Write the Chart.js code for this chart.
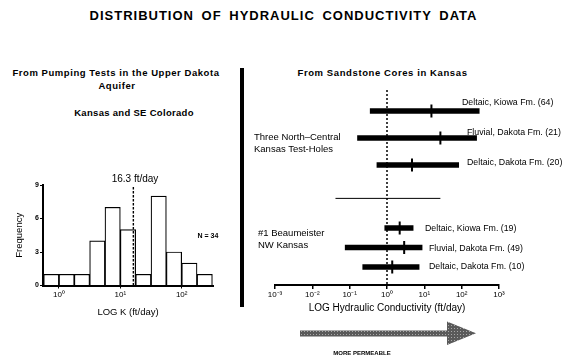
<!DOCTYPE html>
<html>
<head>
<meta charset="utf-8">
<script src="https://cdn.jsdelivr.net/npm/chart.js@4.4.1/dist/chart.umd.min.js"></script>
<style>
html,body{margin:0;padding:0;background:#fff;}
#stage{position:relative;width:565px;height:364px;overflow:hidden;font-family:'Liberation Sans',Arial,Helvetica,sans-serif;color:#000;background:#fff;}
.t{position:absolute;white-space:nowrap;line-height:1;}
.c{transform:translate(-50%,-50%);}
.l{transform:translateY(-50%);}
canvas{position:absolute;}
</style>
</head>
<body>
<div id="stage">
  <canvas id="hist" width="235" height="180" style="left:0;top:150px;width:235px;height:180px"></canvas>
  <canvas id="cores" width="320" height="240" style="left:245px;top:80px;width:320px;height:240px"></canvas>

  <div class="t c" style="left:283.5px;top:15px;font-weight:bold;font-size:13px;letter-spacing:1px;word-spacing:3px">DISTRIBUTION OF HYDRAULIC CONDUCTIVITY DATA</div>

  <div class="t c" style="left:116px;top:73px;font-weight:bold;font-size:9.5px;letter-spacing:0.55px">From Pumping Tests in the Upper Dakota</div>
  <div class="t c" style="left:117px;top:86px;font-weight:bold;font-size:9.5px;letter-spacing:0.55px">Aquifer</div>
  <div class="t c" style="left:134px;top:113px;font-weight:bold;font-size:9.5px;letter-spacing:0.3px">Kansas and SE Colorado</div>
  <div class="t c" id="markerLabel" style="left:135px;top:179px;font-size:10px"></div>
  <div class="t c" id="nLabel" style="left:208px;top:235px;font-size:7px;font-weight:bold"></div>

  <div id="divider" style="position:absolute;left:240px;top:68px;width:4px;height:239px;background:#000"></div>

  <div class="t c" style="left:382.5px;top:73px;font-weight:bold;font-size:9.5px;letter-spacing:0.6px">From Sandstone Cores in Kansas</div>
  <div class="t l" style="left:254px;top:137px;font-size:9.5px">Three North–Central</div>
  <div class="t l" style="left:254px;top:149px;font-size:9.5px">Kansas Test-Holes</div>
  <div class="t l" style="left:258px;top:233px;font-size:9.5px">#1 Beaumeister</div>
  <div class="t l" style="left:258px;top:245px;font-size:9.5px">NW Kansas</div>

  <div class="t l" style="left:462px;top:102px;font-size:8.8px">Deltaic, Kiowa Fm. (64)</div>
  <div class="t l" style="left:467px;top:132px;font-size:8.8px">Fluvial, Dakota Fm. (21)</div>
  <div class="t l" style="left:467px;top:162px;font-size:8.8px">Deltaic, Dakota Fm. (20)</div>
  <div class="t l" style="left:425px;top:228px;font-size:8.8px">Deltaic, Kiowa Fm. (19)</div>
  <div class="t l" style="left:429px;top:248px;font-size:8.8px">Fluvial, Dakota Fm. (49)</div>
  <div class="t l" style="left:429px;top:266px;font-size:8.8px">Deltaic, Dakota Fm. (10)</div>

  <svg style="position:absolute;left:0;top:0" width="565" height="364">
    <defs>
      <pattern id="stipple" width="3" height="3" patternUnits="userSpaceOnUse">
        <rect width="3" height="3" fill="#5a5a5a"/>
        <rect x="1" y="1" width="1" height="1" fill="#a8a8a8"/>
      </pattern>
    </defs>
    <polygon points="300,330.5 447,330.5 447,321.5 476,333.3 447,345 447,336.5 300,336.5" fill="url(#stipple)"/>
  </svg>
  <div class="t c" style="left:362px;top:353px;font-size:6px;font-weight:bold">MORE PERMEABLE</div>
</div>

<script>
// ---------- Histogram: pumping tests, Upper Dakota aquifer ----------
const histBinEdgesLogK = [-0.25, 0, 0.25, 0.5, 0.75, 1, 1.25, 1.5, 1.75, 2, 2.25, 2.5];
const histFrequency = [1, 1, 1, 4, 7, 5, 1, 8, 3, 2, 1];
const histMarkerK = 16.3;          // ft/day
const histN = 34;
const histTickExponents = [0, 1, 2];
const histFreqTicks = [0, 3, 6, 9];

// ---------- Sandstone cores (values are log10 K, ft/day) ----------
const topRows = ['Deltaic, Kiowa Fm. (64)', 'Fluvial, Dakota Fm. (21)', 'Deltaic, Dakota Fm. (20)'];
const topMinLogK = [-0.45, -0.79, -0.27];
const topMaxLogK = [2.47, 2.40, 1.92];
const topMidLogK = [1.19, 1.43, 0.67];

const bottomRows = ['Deltaic, Kiowa Fm. (19)', 'Fluvial, Dakota Fm. (49)', 'Deltaic, Dakota Fm. (10)'];
const bottomMinLogK = [-0.06, -1.12, -0.65];
const bottomMaxLogK = [0.70, 0.94, 0.86];
const bottomMidLogK = [0.34, 0.46, 0.14];

const dividerLogK = [-1.38, 1.43];
const coreRefLogK = 0;
const coreTickExponents = [-3, -2, -1, 0, 1, 2, 3];

// ---------- helpers ----------
const SUP = {'0':'⁰','1':'¹','2':'²','3':'³','4':'⁴','5':'⁵','6':'⁶','7':'⁷','8':'⁸','9':'⁹','-':'⁻'};
const pow10Label = v => '10' + String(v).split('').map(ch => SUP[ch] || ch).join('');

document.getElementById('markerLabel').textContent = histMarkerK + ' ft/day';
document.getElementById('nLabel').textContent = 'N = ' + histN;

Chart.defaults.font.family = "'Liberation Sans', Arial, Helvetica, sans-serif";
Chart.defaults.color = '#000';

const refLine = {
  id: 'refLine',
  afterDatasetsDraw(chart, args, opts) {
    const {ctx, chartArea, scales} = chart;
    const x = scales.x.getPixelForValue(opts.value);
    ctx.save();
    ctx.strokeStyle = '#000';
    ctx.lineWidth = opts.width;
    ctx.setLineDash(opts.dash);
    ctx.beginPath();
    ctx.moveTo(x, chartArea.top + (opts.topInset || 0));
    ctx.lineTo(x, chartArea.bottom);
    ctx.stroke();
    ctx.restore();
  }
};

// ---------- Chart 1: histogram ----------
new Chart(document.getElementById('hist'), {
  type: 'bar',
  data: {
    datasets: [{
      data: histFrequency.map((f, i) => ({x: (histBinEdgesLogK[i] + histBinEdgesLogK[i + 1]) / 2, y: f})),
      backgroundColor: '#fff',
      borderColor: '#000',
      borderWidth: 1.2,
      barPercentage: 1,
      categoryPercentage: 1
    }]
  },
  options: {
    responsive: false,
    animation: false,
    devicePixelRatio: 1,
    layout: {padding: {left: 5, right: 22, top: 35, bottom: 11.5}},
    plugins: {
      legend: {display: false},
      tooltip: {enabled: false},
      refLine: {value: Math.log10(histMarkerK), width: 1.4, dash: [2.5, 1.5], topInset: 2}
    },
    scales: {
      x: {
        type: 'linear', min: -0.26, max: 2.51, offset: false, beginAtZero: false,
        afterBuildTicks: s => { s.ticks = histTickExponents.map(v => ({value: v})); },
        ticks: {callback: v => pow10Label(v), font: {size: 8}, padding: 1, maxRotation: 0, autoSkip: false, color: '#000'},
        grid: {drawOnChartArea: false, offset: false, tickLength: 3, color: '#000', tickColor: '#000'},
        border: {color: '#000', width: 2},
        title: {display: true, text: 'LOG K (ft/day)', font: {size: 9.5}, padding: {top: 0, bottom: 0}, color: '#000'},
        afterFit: s => { s.height = 33; }
      },
      y: {
        min: 0, max: 9,
        afterBuildTicks: s => { s.ticks = histFreqTicks.map(v => ({value: v})); },
        ticks: {font: {size: 7, weight: 'bold'}, padding: 1, color: '#000'},
        grid: {drawOnChartArea: false, tickLength: 3, color: '#000', tickColor: '#000'},
        border: {color: '#000', width: 2},
        title: {display: true, text: 'Frequency', font: {size: 9.5}, padding: {top: 9, bottom: 0}, color: '#000'},
        afterFit: s => { s.width = 38; }
      }
    }
  },
  plugins: [refLine]
});

// ---------- Chart 2: ranges from sandstone cores ----------
const hidden = {display: false, position: 'left', stack: 'cores'};
new Chart(document.getElementById('cores'), {
  type: 'bar',
  data: {
    datasets: [
      {type: 'bar', indexAxis: 'y', xAxisID: 'x', yAxisID: 'yTop',
       data: topRows.map((r, i) => ({y: r, x: [topMinLogK[i], topMaxLogK[i]]})),
       backgroundColor: '#000', borderWidth: 0, barThickness: 5},
      {type: 'bar', indexAxis: 'y', xAxisID: 'x', yAxisID: 'yBot',
       data: bottomRows.map((r, i) => ({y: r, x: [bottomMinLogK[i], bottomMaxLogK[i]]})),
       backgroundColor: '#000', borderWidth: 0, barThickness: 5},
      {type: 'scatter', indexAxis: 'y', xAxisID: 'x', yAxisID: 'yTop',
       data: topRows.map((r, i) => ({x: topMidLogK[i], y: r})),
       pointStyle: 'line', rotation: 90, radius: 6.5, borderWidth: 2, borderColor: '#000', backgroundColor: '#000'},
      {type: 'scatter', indexAxis: 'y', xAxisID: 'x', yAxisID: 'yBot',
       data: bottomRows.map((r, i) => ({x: bottomMidLogK[i], y: r})),
       pointStyle: 'line', rotation: 90, radius: 6.5, borderWidth: 2, borderColor: '#000', backgroundColor: '#000'},
      {type: 'line', indexAxis: 'y', xAxisID: 'x', yAxisID: 'yMid',
       data: dividerLogK.map(v => ({x: v, y: 'divider'})),
       borderColor: '#000', borderWidth: 1, pointRadius: 0, fill: false}
    ]
  },
  options: {
    responsive: false,
    animation: false,
    devicePixelRatio: 1,
    layout: {padding: {left: 30, right: 66, top: 10, bottom: 5}},
    plugins: {
      legend: {display: false},
      tooltip: {enabled: false},
      refLine: {value: coreRefLogK, width: 1.5, dash: [2, 2]}
    },
    scales: {
      yBotPad: Object.assign({type: 'linear', min: 0, max: 1, stackWeight: 8.25, weight: 1}, hidden),
      yBot: Object.assign({type: 'category', labels: bottomRows, offset: true, stackWeight: 58.5, weight: 2}, hidden),
      yMid: Object.assign({type: 'category', labels: ['divider'], offset: true, stackWeight: 39.75, weight: 3}, hidden),
      yTop: Object.assign({type: 'category', labels: topRows, offset: true, stackWeight: 81, weight: 4}, hidden),
      yTopPad: Object.assign({type: 'linear', min: 0, max: 1, stackWeight: 7.5, weight: 5}, hidden),
      x: {
        type: 'linear', position: 'bottom', min: -3, max: 3, offset: false, beginAtZero: false,
        afterBuildTicks: s => { s.ticks = coreTickExponents.map(v => ({value: v})); },
        ticks: {callback: v => pow10Label(v), font: {size: 8}, padding: 1, maxRotation: 0, autoSkip: false, color: '#000'},
        grid: {drawOnChartArea: false, offset: false, tickLength: 4, color: '#000', tickColor: '#000', lineWidth: 1.5},
        border: {color: '#000', width: 2},
        title: {display: true, text: 'LOG Hydraulic Conductivity (ft/day)', font: {size: 10}, padding: {top: 0, bottom: 1}, color: '#000'},
        afterFit: s => { s.height = 30; }
      }
    }
  },
  plugins: [refLine]
});
</script>
</body>
</html>
